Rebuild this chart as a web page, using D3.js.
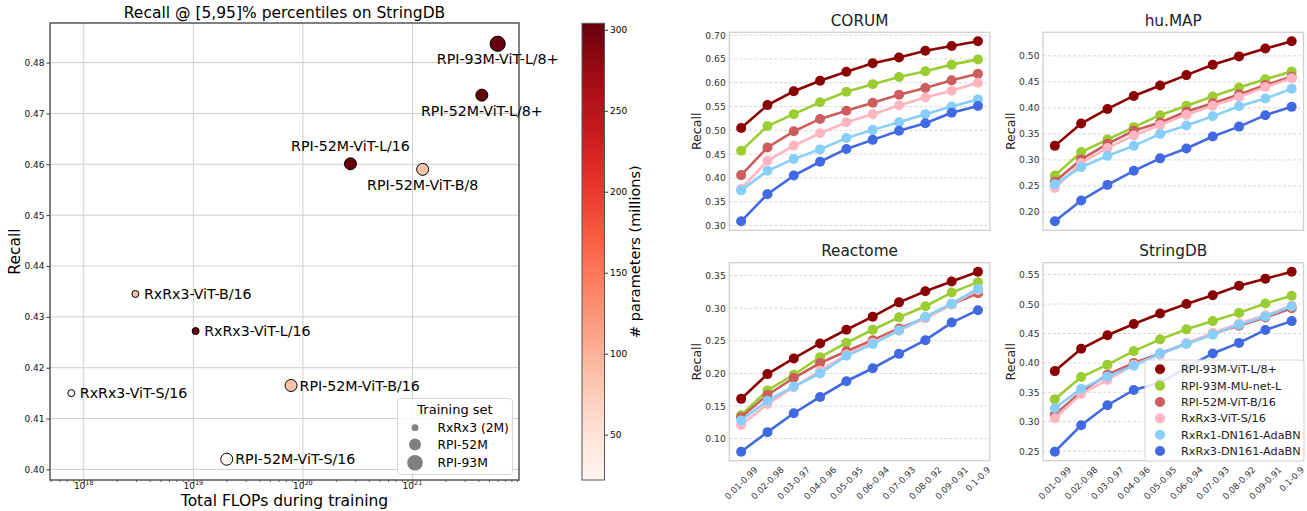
<!DOCTYPE html>
<html>
<head>
<meta charset="utf-8">
<script src="https://cdn.jsdelivr.net/npm/d3@7"></script>
<style>
  body { margin: 0; background: #fff; }
  svg { font-family: "DejaVu Sans", sans-serif; }
</style>
</head>
<body>
<svg id="chart" width="1307" height="511"></svg>
<script>
// ---- scatter data (left) ----
const models   = ["RPI-93M-ViT-L/8+", "RPI-52M-ViT-L/8+", "RPI-52M-ViT-L/16", "RPI-52M-ViT-B/8",
                  "RxRx3-ViT-B/16", "RxRx3-ViT-L/16", "RxRx3-ViT-S/16", "RPI-52M-ViT-B/16", "RPI-52M-ViT-S/16"];
const flops    = [6.0e21, 4.3e21, 2.72e20, 1.24e21, 2.96e18, 1.05e19, 7.7e17, 7.8e19, 2.02e19];
const recall   = [0.4837, 0.4736, 0.4601, 0.4590, 0.4345, 0.4272, 0.4150, 0.4165, 0.4020];
const params   = [304, 304, 303, 86, 86, 303, 22, 86, 22];
const trainSet = ["RPI-93M", "RPI-52M", "RPI-52M", "RPI-52M", "RxRx3 (2M)", "RxRx3 (2M)", "RxRx3 (2M)", "RPI-52M", "RPI-52M"];
const trainSets = ["RxRx3 (2M)", "RPI-52M", "RPI-93M"];
const cbTicks = [50, 100, 150, 200, 250, 300];

// ---- line data (right) ----
const ranges = ["0.01-0.99", "0.02-0.98", "0.03-0.97", "0.04-0.96", "0.05-0.95",
                "0.06-0.94", "0.07-0.93", "0.08-0.92", "0.09-0.91", "0.1-0.9"];
const methods = ["RPI-93M-ViT-L/8+", "RPI-93M-MU-net-L", "RPI-52M-ViT-B/16",
                 "RxRx3-ViT-S/16", "RxRx1-DN161-AdaBN", "RxRx3-DN161-AdaBN"];

const corumRecall = [
  [0.505, 0.553, 0.582, 0.604, 0.623, 0.641, 0.653, 0.667, 0.677, 0.687],
  [0.457, 0.509, 0.534, 0.559, 0.581, 0.597, 0.612, 0.624, 0.638, 0.649],
  [0.406, 0.464, 0.498, 0.524, 0.541, 0.558, 0.575, 0.589, 0.605, 0.619],
  [0.377, 0.436, 0.468, 0.494, 0.517, 0.534, 0.552, 0.569, 0.583, 0.600],
  [0.374, 0.415, 0.440, 0.460, 0.484, 0.501, 0.517, 0.534, 0.550, 0.565],
  [0.309, 0.366, 0.405, 0.434, 0.461, 0.480, 0.499, 0.515, 0.537, 0.551]
];
const humapRecall = [
  [0.327, 0.370, 0.398, 0.423, 0.443, 0.463, 0.483, 0.499, 0.514, 0.528],
  [0.270, 0.315, 0.339, 0.363, 0.386, 0.404, 0.422, 0.439, 0.455, 0.470],
  [0.258, 0.301, 0.331, 0.356, 0.372, 0.393, 0.409, 0.426, 0.444, 0.460],
  [0.246, 0.294, 0.323, 0.347, 0.367, 0.387, 0.404, 0.421, 0.440, 0.457],
  [0.253, 0.286, 0.308, 0.327, 0.350, 0.366, 0.384, 0.403, 0.418, 0.437],
  [0.182, 0.222, 0.252, 0.279, 0.303, 0.322, 0.345, 0.364, 0.386, 0.402]
];
const reactomeRecall = [
  [0.161, 0.199, 0.223, 0.246, 0.267, 0.287, 0.309, 0.326, 0.341, 0.356],
  [0.136, 0.174, 0.198, 0.225, 0.247, 0.267, 0.286, 0.303, 0.324, 0.340],
  [0.133, 0.167, 0.193, 0.216, 0.234, 0.251, 0.269, 0.285, 0.306, 0.323],
  [0.121, 0.153, 0.179, 0.204, 0.229, 0.247, 0.266, 0.285, 0.306, 0.328],
  [0.128, 0.158, 0.180, 0.200, 0.227, 0.245, 0.266, 0.287, 0.307, 0.330],
  [0.080, 0.110, 0.139, 0.164, 0.188, 0.208, 0.230, 0.251, 0.278, 0.297]
];
const stringdbRecall = [
  [0.386, 0.424, 0.447, 0.466, 0.484, 0.500, 0.515, 0.531, 0.543, 0.555],
  [0.338, 0.376, 0.397, 0.420, 0.440, 0.457, 0.471, 0.485, 0.501, 0.514],
  [0.312, 0.351, 0.380, 0.400, 0.416, 0.433, 0.450, 0.463, 0.477, 0.493],
  [0.306, 0.347, 0.371, 0.397, 0.414, 0.433, 0.451, 0.467, 0.481, 0.497],
  [0.323, 0.356, 0.377, 0.395, 0.416, 0.432, 0.448, 0.465, 0.479, 0.496],
  [0.249, 0.294, 0.328, 0.354, 0.366, 0.392, 0.416, 0.434, 0.456, 0.471]
];

const methodColors = ["#8b0000", "#9acd32", "#cd5c5c", "#ffb6c1", "#87cefa", "#4169e1"];
const font = "DejaVu Sans, sans-serif";
const svg = d3.select("#chart");

// =============== left scatter ===============
const sc = { left: 50, top: 23, right: 519, bottom: 480 };

// matplotlib-like 5% margins
const lx = d3.extent(flops, d => Math.log10(d));
const lxPad = (lx[1] - lx[0]) * 0.05;
const x = d3.scaleLog().domain([10 ** (lx[0] - lxPad), 10 ** (lx[1] + lxPad)]).range([sc.left, sc.right]);
const ye = d3.extent(recall);
const yPad = (ye[1] - ye[0]) * 0.05;
const y = d3.scaleLinear().domain([ye[0] - yPad, ye[1] + yPad]).range([sc.bottom, sc.top]);

const color = d3.scaleSequential(d3.interpolateReds).domain([22, 304]);
const radius = d3.scaleOrdinal().domain(trainSets).range([3.5, 6, 7.6]);

const xMajor = [1e18, 1e19, 1e20, 1e21];
const xMinor = [];
for (let e = 17; e <= 21; e++) for (let k = 2; k <= 9; k++) {
  const v = k * 10 ** e;
  if (v > x.domain()[0] && v < x.domain()[1]) xMinor.push(v);
}
const yTicks = d3.range(0.40, 0.4801, 0.01);

// grid
svg.append("g").selectAll("line").data(xMajor).join("line")
  .attr("x1", d => x(d)).attr("x2", d => x(d)).attr("y1", sc.top).attr("y2", sc.bottom)
  .attr("stroke", "#cfcfcf").attr("stroke-width", 1);
svg.append("g").selectAll("line").data(yTicks).join("line")
  .attr("x1", sc.left).attr("x2", sc.right).attr("y1", d => y(d)).attr("y2", d => y(d))
  .attr("stroke", "#cfcfcf").attr("stroke-width", 1);

// axes
svg.append("g").attr("transform", `translate(0,${sc.bottom})`)
  .call(d3.axisBottom(x).tickValues(xMajor).tickSize(3.5).tickFormat(""))
  .call(g => g.select(".domain").remove())
  .call(g => g.selectAll("line").attr("stroke", "#333"));
svg.append("g").attr("transform", `translate(0,${sc.bottom})`)
  .call(d3.axisBottom(x).tickValues(xMinor).tickSize(2).tickFormat(""))
  .call(g => g.select(".domain").remove())
  .call(g => g.selectAll("line").attr("stroke", "#333").attr("stroke-width", 0.8));
const xl = svg.append("g").selectAll("text").data(xMajor).join("text")
  .attr("x", d => x(d)).attr("y", 488.5).attr("text-anchor", "middle")
  .attr("font-family", font).attr("font-size", 9).attr("fill", "#111");
xl.append("tspan").text("10");
xl.append("tspan").attr("font-size", 6.5).attr("dy", -4).text(d => Math.round(Math.log10(d)));

svg.append("g").attr("transform", `translate(${sc.left},0)`)
  .call(d3.axisLeft(y).tickValues(yTicks).tickSize(3.5).tickPadding(2).tickFormat(d3.format(".2f")))
  .call(g => g.select(".domain").remove())
  .attr("font-family", font).attr("font-size", 9)
  .call(g => g.selectAll("line").attr("stroke", "#333"))
  .call(g => g.selectAll("text").attr("fill", "#111"));

svg.append("rect").attr("x", sc.left).attr("y", sc.top)
  .attr("width", sc.right - sc.left).attr("height", sc.bottom - sc.top)
  .attr("fill", "none").attr("stroke", "#555").attr("stroke-width", 1.5);

// points
svg.append("g").selectAll("circle").data(models).join("circle")
  .attr("cx", (d, i) => x(flops[i])).attr("cy", (d, i) => y(recall[i]))
  .attr("r", (d, i) => radius(trainSet[i]))
  .attr("fill", (d, i) => color(params[i]))
  .attr("stroke", "#000").attr("stroke-width", 1);

// point labels
const labelSide = {
  "RPI-93M-ViT-L/8+": "below", "RPI-52M-ViT-L/8+": "below", "RPI-52M-ViT-B/8": "below",
  "RPI-52M-ViT-L/16": "above"
};
svg.append("g").selectAll("text").data(models).join("text")
  .attr("font-family", font).attr("font-size", 14.2).attr("fill", "#000")
  .each(function (d, i) {
    const t = d3.select(this).text(d);
    const cx = x(flops[i]), cy = y(recall[i]);
    const side = labelSide[d] || "right";
    if (side === "below") t.attr("x", cx).attr("y", cy + 20.5).attr("text-anchor", "middle");
    else if (side === "above") t.attr("x", cx).attr("y", cy - 12.5).attr("text-anchor", "middle");
    else t.attr("x", cx + 8.5).attr("y", cy).attr("dy", "0.36em");
  });

// scatter title and labels
svg.append("text").attr("x", (sc.left + sc.right) / 2).attr("y", 17.5).attr("text-anchor", "middle")
  .attr("font-family", font).attr("font-size", 15.5).text("Recall @ [5,95]% percentiles on StringDB");
svg.append("text").attr("x", (sc.left + sc.right) / 2).attr("y", 506).attr("text-anchor", "middle")
  .attr("font-family", font).attr("font-size", 15.5).text("Total FLOPs during training");
svg.append("text").attr("transform", `translate(20,${(sc.top + sc.bottom) / 2}) rotate(-90)`)
  .attr("text-anchor", "middle").attr("font-family", font).attr("font-size", 15.5).text("Recall");

// size legend
const lg = svg.append("g");
lg.append("rect").attr("x", 397.5).attr("y", 398.5).attr("width", 115).attr("height", 76).attr("rx", 3)
  .attr("fill", "#fff").attr("fill-opacity", 0.85).attr("stroke", "#d6d6d6");
lg.append("text").attr("x", 455).attr("y", 413.5).attr("text-anchor", "middle")
  .attr("font-family", font).attr("font-size", 13).text("Training set");
trainSets.forEach((s, i) => {
  const yy = [427.7, 444.5, 462.7][i];
  lg.append("circle").attr("cx", 415).attr("cy", yy).attr("r", [3.4, 6, 7.8][i]).attr("fill", "#808080");
  lg.append("text").attr("x", 437.5).attr("y", yy).attr("dy", "0.36em")
    .attr("font-family", font).attr("font-size", 12.3).text(s);
});

// colorbar
const cb = { x: 582, y: 23.3, w: 22.5, h: 456.7 };
const cy = d3.scaleLinear().domain(color.domain()).range([cb.y + cb.h, cb.y]);
const grad = svg.append("defs").append("linearGradient").attr("id", "reds")
  .attr("x1", 0).attr("y1", 1).attr("x2", 0).attr("y2", 0);
d3.range(0, 1.0001, 0.05).forEach(t => {
  grad.append("stop").attr("offset", t).attr("stop-color", d3.interpolateReds(t));
});
svg.append("rect").attr("x", cb.x).attr("y", cb.y).attr("width", cb.w).attr("height", cb.h)
  .attr("fill", "url(#reds)").attr("stroke", "#555").attr("stroke-width", 1);
svg.append("g").attr("transform", `translate(${cb.x + cb.w},0)`)
  .call(d3.axisRight(cy).tickValues(cbTicks).tickSize(3.5).tickPadding(2))
  .call(g => g.select(".domain").remove())
  .attr("font-family", font).attr("font-size", 9)
  .call(g => g.selectAll("line").attr("stroke", "#333"));
svg.append("text").attr("transform", `translate(640,${cb.y + cb.h / 2}) rotate(-90)`)
  .attr("text-anchor", "middle").attr("font-family", font).attr("font-size", 14.5)
  .text("# parameters (millions)");

// =============== right line panels ===============
const pw = 260.5, ph = 198;
const panels = [
  { title: "CORUM", values: corumRecall, x0: 729.3, y0: 32.3, bottomRow: false },
  { title: "hu.MAP", values: humapRecall, x0: 1043, y0: 32.3, bottomRow: false },
  { title: "Reactome", values: reactomeRecall, x0: 729.3, y0: 262.7, bottomRow: true },
  { title: "StringDB", values: stringdbRecall, x0: 1043, y0: 262.7, bottomRow: true, legend: true }
];

panels.forEach(p => {
  const g = svg.append("g").attr("transform", `translate(${p.x0},${p.y0})`);
  const [lo, hi] = d3.extent(p.values.flat());
  const pad = (hi - lo) * 0.05;
  const py = d3.scaleLinear().domain([lo - pad, hi + pad]).range([ph, 0]);
  const px = d3.scalePoint().domain(ranges).range([0, pw]).padding(0.45);
  const ticks = d3.range(Math.ceil((lo - pad) / 0.05), Math.floor((hi + pad) / 0.05) + 1).map(k => +(k * 0.05).toFixed(2));

  g.append("g").selectAll("line").data(ticks).join("line")
    .attr("x1", 0).attr("x2", pw).attr("y1", d => py(d)).attr("y2", d => py(d))
    .attr("stroke", "#cccccc").attr("stroke-width", 0.8).attr("stroke-dasharray", "3,2");

  g.append("g")
    .call(d3.axisLeft(py).tickValues(ticks).tickSize(0).tickPadding(3.5).tickFormat(d3.format(".2f")))
    .call(a => a.select(".domain").remove())
    .attr("font-family", font).attr("font-size", 9.2)
    .call(a => a.selectAll("text").attr("fill", "#333"));

  const line = d3.line().x((d, j) => px(ranges[j])).y(d => py(d));
  methods.forEach((m, i) => {
    const s = g.append("g");
    s.append("path").datum(p.values[i]).attr("d", line)
      .attr("fill", "none").attr("stroke", methodColors[i]).attr("stroke-width", 2.6);
    s.selectAll("circle").data(p.values[i]).join("circle")
      .attr("cx", (d, j) => px(ranges[j])).attr("cy", d => py(d)).attr("r", 5)
      .attr("fill", methodColors[i]);
  });

  g.append("rect").attr("width", pw).attr("height", ph)
    .attr("fill", "none").attr("stroke", "#d0d0d0").attr("stroke-width", 1.3);

  g.append("text").attr("x", pw / 2).attr("y", -6.5).attr("text-anchor", "middle")
    .attr("font-family", font).attr("font-size", 15.3).attr("fill", "#222").text(p.title);
  g.append("text").attr("transform", `translate(-28.5,${ph / 2}) rotate(-90)`)
    .attr("text-anchor", "middle").attr("font-family", font).attr("font-size", 12.6)
    .attr("fill", "#222").text("Recall");

  if (p.bottomRow) {
    g.append("g").selectAll("text").data(ranges).join("text")
      .attr("font-family", font).attr("font-size", 8.7).attr("fill", "#333")
      .attr("text-anchor", "middle").attr("dominant-baseline", "central")
      .text(d => d)
      .each(function (d) {
        const L = this.getComputedTextLength();
        const half = (L + 10) * 0.3536;
        d3.select(this).attr("transform", `translate(${px(d)},${ph + 4 + half}) rotate(-45)`);
      });
  }

  if (p.legend) {
    const lgd = g.append("g").attr("transform", `translate(${1145 - p.x0},${360 - p.y0})`);
    lgd.append("rect").attr("width", 159).attr("height", 101).attr("rx", 3)
      .attr("fill", "#fff").attr("fill-opacity", 0.85).attr("stroke", "#d6d6d6");
    methods.forEach((m, i) => {
      const yy = 9.3 + i * 16.35;
      lgd.append("circle").attr("cx", 15).attr("cy", yy).attr("r", 5).attr("fill", methodColors[i]);
      lgd.append("text").attr("x", 36).attr("y", yy).attr("dy", "0.36em")
        .attr("font-family", font).attr("font-size", 11.2).attr("fill", "#222").text(m);
    });
  }
});
</script>
</body>
</html>
